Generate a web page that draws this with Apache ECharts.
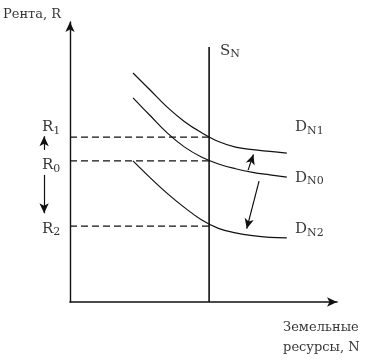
<!DOCTYPE html>
<html>
<head>
<meta charset="utf-8">
<script src="https://cdn.jsdelivr.net/npm/echarts@6/dist/echarts.min.js"></script>
<style>html,body{margin:0;padding:0;background:#fff}#c{width:366px;height:361px}</style>
</head>
<body>
<div id="c"></div>
<script>
// ---- data (conceptual units, x: land N, y: rent R) ----
const curveX = [2.36, 3.00, 3.64, 4.28, 4.92, 5.56, 6.20, 6.84, 7.48, 8.12];
const demandN1 = [8.18, 7.57, 6.96, 6.45, 6.05, 5.73, 5.53, 5.44, 5.38, 5.32];
const demandN0 = [7.29, 6.66, 6.04, 5.54, 5.18, 4.93, 4.76, 4.63, 4.54, 4.46];
const demandN2 = [5.04, 4.44, 3.88, 3.38, 2.94, 2.63, 2.47, 2.37, 2.31, 2.29];
const supplyX = 5.21;
const supplyTop = 9.11;
const rentNames = ['R1', 'R0', 'R2'];
const rentValues = [5.89, 5.04, 2.71];

const FONT = 'DejaVu Serif';
const INK = '#111';
const TXT = '#000';

const chart = echarts.init(document.getElementById('c'), null, {renderer: 'canvas'});

const zip = (xs, ys) => xs.map((x, i) => [x, ys[i]]);
const curve = (name, ys) => ({
  name, type: 'line', data: zip(curveX, ys), smooth: 0.4, symbol: 'none',
  lineStyle: {color: INK, width: 1.2}, silent: true, z: 3
});

const rich = {
  m: {fontFamily: FONT, fontSize: 15, color: TXT, lineHeight: 18},
  s: {fontFamily: FONT, fontSize: 11, color: TXT, lineHeight: 11, verticalAlign: 'bottom'},
  t: {fontFamily: FONT, fontSize: 13, color: TXT}
};
const lbl = (x, y, text) => ({value: [x, y], label: {formatter: text}});

const shiftArrows = [
  [[6.67, 4.71], [6.87, 5.27]],
  [[7.08, 4.32], [6.62, 2.62]]
];
const sideArrows = [
  [[-0.97, 5.43], [-0.97, 5.92]],
  [[-0.97, 4.54], [-0.97, 3.17]]
];

const option = {
  animation: false,
  grid: {left: 70, right: 29, top: 22, bottom: 59},
  xAxis: {
    type: 'value', min: 0, max: 10,
    axisLine: {show: true, symbol: ['none', 'arrow'], symbolSize: [7, 10], lineStyle: {color: INK, width: 1.6}},
    axisTick: {show: false}, axisLabel: {show: false}, splitLine: {show: false}
  },
  yAxis: {
    type: 'value', min: 0, max: 10,
    axisLine: {show: true, symbol: ['none', 'arrow'], symbolSize: [7, 10], lineStyle: {color: INK, width: 1.4}},
    axisTick: {show: false}, axisLabel: {show: false}, splitLine: {show: false}
  },
  series: [
    curve('DN1', demandN1),
    curve('DN0', demandN0),
    curve('DN2', demandN2),
    ...rentValues.map((r, i) => ({
      name: rentNames[i], type: 'line', data: [[0, r], [supplyX, r]], symbol: 'none', silent: true,
      lineStyle: {color: INK, width: 1.2, type: [7, 4]}, z: 2
    })),
    {
      name: 'SN', type: 'line', data: [[supplyX, 0], [supplyX, supplyTop]], symbol: 'none', silent: true,
      lineStyle: {color: INK, width: 1.6}, z: 4
    },
    {
      name: 'labels', type: 'scatter', symbolSize: 0, silent: true, clip: false, z: 5,
      label: {show: true, position: 'right', distance: 0, rich, color: TXT, fontFamily: FONT, fontSize: 13},
      data: [
        lbl(-2.51, 10.25, '{t|Рента, R}'),
        lbl(7.98, -0.93, '{t|Земельные}'),
        lbl(7.98, -1.63, '{t|ресурсы, N}'),
        lbl(-1.05, 6.23, '{m|R}{s|1}'),
        lbl(-1.05, 4.88, '{m|R}{s|0}'),
        lbl(-1.05, 2.61, '{m|R}{s|2}'),
        lbl(8.43, 6.23, '{m|D}{s|N1}'),
        lbl(8.43, 4.43, '{m|D}{s|N0}'),
        lbl(8.43, 2.59, '{m|D}{s|N2}'),
        lbl(5.62, 8.96, '{m|S}{s|N}')
      ]
    }
  ]
};
chart.setOption(option);

// arrows: positions converted through the chart's own axes
const px = p => chart.convertToPixel({gridIndex: 0}, p);
const arrowData = shiftArrows.concat(sideArrows).map(([a, b]) => {
  const pa = px(a), pb = px(b);
  return [{x: pa[0], y: pa[1]}, {x: pb[0], y: pb[1]}];
});
chart.setOption({
  series: [{
    id: 'arrows', type: 'line', data: [], silent: true,
    markLine: {
      silent: true, animation: false, symbol: ['none', 'arrow'], symbolSize: [7, 10],
      label: {show: false}, emphasis: {disabled: true},
      lineStyle: {color: INK, width: 1.2, type: 'solid'},
      data: arrowData
    }
  }]
});
</script>
</body>
</html>
